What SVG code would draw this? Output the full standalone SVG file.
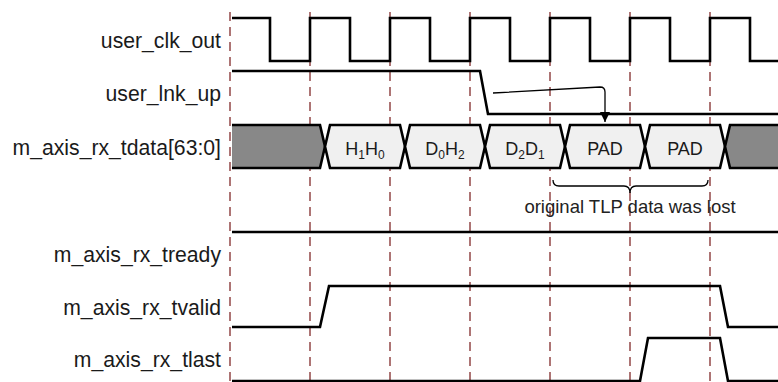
<svg xmlns="http://www.w3.org/2000/svg" width="778" height="382" viewBox="0 0 778 382">
<defs>
<style>
.lbl{font-family:"Liberation Sans",Arial,sans-serif;font-size:21.2px;fill:#1a1a1a;text-anchor:end}
.dl{font-family:"Liberation Sans",Arial,sans-serif;font-size:18px;fill:#1a1a1a;text-anchor:middle}
.sub{font-size:12px}
.ann{font-family:"Liberation Sans",Arial,sans-serif;font-size:18.5px;fill:#222;text-anchor:middle}
.grid{stroke:#8b3a3a;stroke-width:1.4;stroke-dasharray:9 6;fill:none}
.sig{stroke:#000;stroke-width:2.6;fill:none;stroke-linejoin:miter}
.light{fill:#f0f0f0;stroke:#000;stroke-width:2.6}
.dark{fill:#888;stroke:none}
.edge{stroke:#000;stroke-width:2.6;fill:none}
.conn{stroke:#000;stroke-width:1.3;fill:none}
</style>
<marker id="ah" viewBox="0 0 10 10" refX="10" refY="5" markerWidth="10" markerHeight="10" markerUnits="userSpaceOnUse" orient="auto">
<path d="M0,0 L10,5 L0,10 Z" fill="#000"/>
</marker>
</defs>
<rect width="778" height="382" fill="#fff"/>
<g id="grid">
<line class="grid" x1="230" y1="12" x2="230" y2="382"/>
<line class="grid" x1="310" y1="12" x2="310" y2="382"/>
<line class="grid" x1="390" y1="12" x2="390" y2="382"/>
<line class="grid" x1="470" y1="12" x2="470" y2="382"/>
<line class="grid" x1="550" y1="12" x2="550" y2="382"/>
<line class="grid" x1="630" y1="12" x2="630" y2="382"/>
<line class="grid" x1="710" y1="12" x2="710" y2="382"/>
</g>
<g id="user_clk_out">
<text class="lbl" x="221" y="48">user_clk_out</text>
<path class="sig" d="M232,18 H270 V61 H310 V18 H350 V61 H390 V18 H430 V61 H470 V18 H510 V61 H550 V18 H590 V61 H630 V18 H670 V61 H710 V18 H750 V61 H778"/>
</g>
<g id="user_lnk_up">
<text class="lbl" x="221" y="101">user_lnk_up</text>
<path class="sig" d="M232,71 H480 L488,114 H778"/>
</g>
<g id="m_axis_rx_tdata">
<text class="lbl" x="221" y="155">m_axis_rx_tdata[63:0]</text>
<path class="dark" d="M232,125 H320 L325,146.5 L320,168 H232 Z"/>
<path class="edge" d="M232,125 H320 L325,146.5 L320,168 H232"/>
<path class="light" d="M325,146.5 L330,125 H400 L405,146.5 L400,168 H330 Z"/>
<path class="light" d="M405,146.5 L410,125 H480 L485,146.5 L480,168 H410 Z"/>
<path class="light" d="M485,146.5 L490,125 H560 L565,146.5 L560,168 H490 Z"/>
<path class="light" d="M565,146.5 L570,125 H640 L645,146.5 L640,168 H570 Z"/>
<path class="light" d="M645,146.5 L650,125 H720 L725,146.5 L720,168 H650 Z"/>
<path class="dark" d="M725,146.5 L730,125 H778 V168 H730 Z"/>
<path class="edge" d="M778,125 H730 L725,146.5 L730,168 H778"/>
<text class="dl" x="365" y="155">H<tspan class="sub" dy="4">1</tspan><tspan dy="-4">H</tspan><tspan class="sub" dy="4">0</tspan></text>
<text class="dl" x="445" y="155">D<tspan class="sub" dy="4">0</tspan><tspan dy="-4">H</tspan><tspan class="sub" dy="4">2</tspan></text>
<text class="dl" x="525" y="155">D<tspan class="sub" dy="4">2</tspan><tspan dy="-4">D</tspan><tspan class="sub" dy="4">1</tspan></text>
<text class="dl" x="605" y="155">PAD</text>
<text class="dl" x="685" y="155">PAD</text>
</g>
<g id="annotation">
<path class="conn" d="M553,180 Q553,186 559,186 H624 Q630,186 630,193 Q630,186 636,186 H702 Q708,186 708,180"/>
<text class="ann" x="630" y="213">original TLP data was lost</text>
</g>
<g id="m_axis_rx_tready">
<text class="lbl" x="221" y="262">m_axis_rx_tready</text>
<path class="sig" d="M232,232 H778"/>
</g>
<g id="m_axis_rx_tvalid">
<text class="lbl" x="221" y="315">m_axis_rx_tvalid</text>
<path class="sig" d="M232,327 H320 L329,286 H720 L728,327 H778"/>
</g>
<g id="m_axis_rx_tlast">
<text class="lbl" x="221" y="367">m_axis_rx_tlast</text>
<path class="sig" d="M232,381 H640 L648,338 H720 L728,381 H778"/>
</g>
<g id="connectors">
<path class="conn" d="M493,93 L600,87 Q605,87 605,92 V122" marker-end="url(#ah)"/>
</g>
</svg>
